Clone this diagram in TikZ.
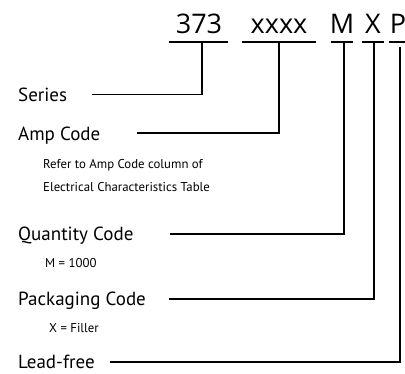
\documentclass[tikz,border=0pt]{standalone}
\usepackage{fontspec}
\setmainfont{PT Sans}
\newfontfamily\codefont{Open Sans}
\begin{document}
\begin{tikzpicture}[x=1pt,y=-1pt,
  code/.style={inner sep=0pt,anchor=base,font=\codefont\fontsize{27}{30}\selectfont},
  lbl/.style={inner sep=0pt,anchor=base west,font=\fontsize{19}{22}\selectfont},
  note/.style={inner sep=0pt,anchor=base west,font=\fontsize{12.8}{15}\selectfont},
  uline/.style={line width=1.8pt},
  conn/.style={line width=1.1pt}]
\useasboundingbox (0,0) rectangle (405,373);
% code parts
\node[code] (c373) at (199,33) {373};
\node[code] (cx) at (279,33) {xxxx};
\node[code] (cm) at (342,33) {M};
\node[code] (cX) at (373,33) {X};
\node[code] (cp) at (398,33) {P};
% underlines
\coordinate (u1a) at (169,42); \coordinate (u1b) at (228,42);
\coordinate (u2a) at (242,42); \coordinate (u2b) at (316,42);
\coordinate (u3a) at (331,42); \coordinate (u3b) at (353,42);
\coordinate (u4a) at (362,42); \coordinate (u4b) at (384,42);
\coordinate (u5a) at (389,42); \coordinate (u5b) at (406,42);
\draw[uline] (u1a) -- (u1b);
\draw[uline] (u2a) -- (u2b);
\draw[uline] (u3a) -- (u3b);
\draw[uline] (u4a) -- (u4b);
\draw[uline] (u5a) -- (u5b);
% labels
\node[lbl] (series) at (18,101) {Series};
\node[lbl] (amp) at (18,140) {Amp Code};
\node[note] (ref1) at (43,168) {Refer to Amp Code column of};
\node[note] (ref2) at (43,191) {Electrical Characteristics Table};
\node[lbl] (qty) at (18,240) {Quantity Code};
\node[note] (mnote) at (45,267) {M = 1000};
\node[lbl] (pack) at (18,305) {Packaging Code};
\node[note] (xnote) at (49,332) {X = Filler};
\node[lbl] (lead) at (18,368) {Lead-free};
% connector ends
\coordinate (s1) at (92,94.5);   \coordinate (t1) at (202,42);
\coordinate (s2) at (137,133);   \coordinate (t2) at (279,42);
\coordinate (s3) at (170,234);   \coordinate (t3) at (344,42);
\coordinate (s4) at (169,299);   \coordinate (t4) at (374,42);
\coordinate (s5) at (110,362);   \coordinate (t5) at (400,47);
\draw[conn] (s1) -| (t1);
\draw[conn] (s2) -| (t2);
\draw[conn] (s3) -| (t3);
\draw[conn] (s4) -| (t4);
\draw[conn] (s5) -| (t5);
\end{tikzpicture}
\end{document}
